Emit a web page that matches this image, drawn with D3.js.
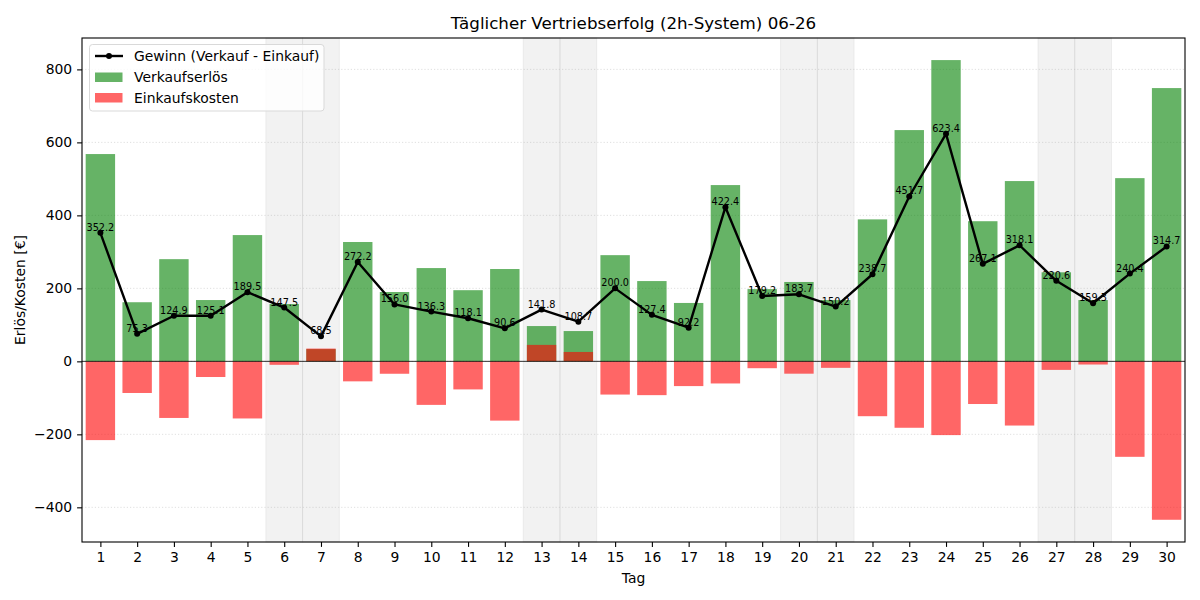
<!DOCTYPE html>
<html>
<head>
<meta charset="utf-8">
<script src="https://cdn.jsdelivr.net/npm/d3@7/dist/d3.min.js"></script>
<style>
  html, body { margin: 0; padding: 0; background: #fff; }
  svg { display: block; font-family: "DejaVu Sans", sans-serif; }
</style>
</head>
<body>
<svg id="chart" width="1200" height="600"></svg>
<script>
const days = d3.range(1, 31);
const revenue = [568, 162, 280, 168, 346, 157, 33.5, 327, 190, 255.6, 195, 253, 96.7, 83, 291, 220, 160, 483, 198, 217.5, 168, 389, 633.7, 825.5, 384, 494, 244, 168, 502, 748.8];
const cost = [215.8, 86.7, 155.1, 42.9, 156.5, 9.5, -35.0, 54.8, 34.0, 119.3, 76.9, 162.4, -45.1, -25.7, 91.0, 92.6, 67.8, 60.6, 18.8, 33.8, 17.8, 150.3, 182.0, 202.1, 116.9, 175.9, 23.4, 8.7, 261.6, 434.1];
const profit = [352.2, 75.3, 124.9, 125.1, 189.5, 147.5, 68.5, 272.2, 156.0, 136.3, 118.1, 90.6, 141.8, 108.7, 200.0, 127.4, 92.2, 422.4, 179.2, 183.7, 150.2, 238.7, 451.7, 623.4, 267.1, 318.1, 220.6, 159.3, 240.4, 314.7];
const weekendDays = [6, 7, 13, 14, 20, 21, 27, 28];
const yTicks = [-400, -200, 0, 200, 400, 600, 800];
const titleText = "Täglicher Vertriebserfolg (2h-System) 06-26";
const xLabel = "Tag";
const yLabel = "Erlös/Kosten [€]";
const legendLabels = ["Gewinn (Verkauf - Einkauf)", "Verkaufserlös", "Einkaufskosten"];

const L = 82, R = 1185, T = 38, B = 542;
const svg = d3.select("#chart");
const x = d3.scaleLinear().domain([0.5, 30.5]).range([L, R]);
const y = d3.scaleLinear().domain([-495, 886]).range([B, T]);
const bw = x(0.8) - x(0);

const g = svg.append("g");

// weekend shading
g.selectAll("rect.we").data(weekendDays).enter().append("rect")
  .attr("x", d => x(d - 0.5)).attr("width", x(1) - x(0))
  .attr("y", T).attr("height", B - T)
  .attr("fill", "#808080").attr("fill-opacity", 0.1)
  .attr("stroke", "#808080").attr("stroke-opacity", 0.1).attr("stroke-width", 1);

// grid
g.selectAll("line.grid").data(yTicks).enter().append("line")
  .attr("x1", L).attr("x2", R)
  .attr("y1", d => y(d)).attr("y2", d => y(d))
  .attr("stroke", "#b0b0b0").attr("stroke-opacity", 0.5)
  .attr("stroke-width", 0.8).attr("stroke-dasharray", "1.2,2");

// revenue bars
g.selectAll("rect.rev").data(days).enter().append("rect")
  .attr("x", d => x(d) - bw / 2).attr("width", bw)
  .attr("y", (d, i) => Math.min(y(revenue[i]), y(0)))
  .attr("height", (d, i) => Math.abs(y(revenue[i]) - y(0)))
  .attr("fill", "green").attr("fill-opacity", 0.6);

// cost bars (negative)
g.selectAll("rect.cost").data(days).enter().append("rect")
  .attr("x", d => x(d) - bw / 2).attr("width", bw)
  .attr("y", (d, i) => Math.min(y(-cost[i]), y(0)))
  .attr("height", (d, i) => Math.abs(y(-cost[i]) - y(0)))
  .attr("fill", "red").attr("fill-opacity", 0.6);

// zero line
g.append("line").attr("x1", L).attr("x2", R)
  .attr("y1", y(0)).attr("y2", y(0))
  .attr("stroke", "#000").attr("stroke-width", 0.8);

// profit line
const line = d3.line().x((d, i) => x(days[i])).y(d => y(d));
g.append("path").datum(profit).attr("d", line)
  .attr("fill", "none").attr("stroke", "#000").attr("stroke-width", 2.4)
  .attr("stroke-linejoin", "round");
g.selectAll("circle.p").data(profit).enter().append("circle")
  .attr("cx", (d, i) => x(days[i])).attr("cy", d => y(d)).attr("r", 3)
  .attr("fill", "#000");
g.selectAll("text.pl").data(profit).enter().append("text")
  .attr("x", (d, i) => x(days[i])).attr("y", d => y(d) - 2)
  .attr("text-anchor", "middle").attr("font-size", "9.7px").attr("fill", "#000")
  .text(d => d.toFixed(1));

// axes
const xAxis = d3.axisBottom(x).tickValues(days).tickSize(4.9).tickPadding(4.9).tickFormat(d3.format("d"));
const yAxis = d3.axisLeft(y).tickValues(yTicks).tickSize(4.9).tickPadding(4.9)
  .tickFormat(d => d < 0 ? "\u2212" + Math.abs(d) : String(d));
const xa = svg.append("g").attr("transform", `translate(0,${B})`).call(xAxis);
const ya = svg.append("g").attr("transform", `translate(${L},0)`).call(yAxis);
[xa, ya].forEach(a => {
  a.select(".domain").remove();
  a.selectAll("line").attr("stroke", "#000").attr("stroke-width", 1.1);
  a.selectAll("text").attr("font-size", "13.9px").attr("fill", "#000")
    .attr("font-family", "DejaVu Sans, sans-serif");
});

// frame
svg.append("rect").attr("x", L).attr("y", T).attr("width", R - L).attr("height", B - T)
  .attr("fill", "none").attr("stroke", "#000").attr("stroke-width", 1.1);

// labels
svg.append("text").attr("x", (L + R) / 2).attr("y", 29).attr("text-anchor", "middle")
  .attr("font-size", "16.7px").attr("fill", "#000").text(titleText);
svg.append("text").attr("x", (L + R) / 2).attr("y", 583).attr("text-anchor", "middle")
  .attr("font-size", "13.9px").attr("fill", "#000").text(xLabel);
svg.append("text").attr("transform", `translate(25,${(T + B) / 2}) rotate(-90)`)
  .attr("text-anchor", "middle").attr("font-size", "13.9px").attr("fill", "#000").text(yLabel);

// legend
const lg = svg.append("g");
lg.append("rect").attr("x", 89.5).attr("y", 44.5).attr("width", 234.5).attr("height", 66.5)
  .attr("rx", 3).attr("fill", "#fff").attr("fill-opacity", 0.8)
  .attr("stroke", "#d9d9d9").attr("stroke-width", 1);
lg.append("line").attr("x1", 95).attr("x2", 123).attr("y1", 56).attr("y2", 56)
  .attr("stroke", "#000").attr("stroke-width", 2.4);
lg.append("circle").attr("cx", 109).attr("cy", 56).attr("r", 3).attr("fill", "#000");
lg.append("rect").attr("x", 95).attr("y", 72.5).attr("width", 27.5).attr("height", 9.5)
  .attr("fill", "green").attr("fill-opacity", 0.6);
lg.append("rect").attr("x", 95).attr("y", 93).attr("width", 27.5).attr("height", 9.5)
  .attr("fill", "red").attr("fill-opacity", 0.6);
[56, 77, 98].forEach((yy, i) => {
  lg.append("text").attr("x", 134).attr("y", yy + 5).attr("font-size", "13.9px")
    .attr("fill", "#000").text(legendLabels[i]);
});
</script>
</body>
</html>
